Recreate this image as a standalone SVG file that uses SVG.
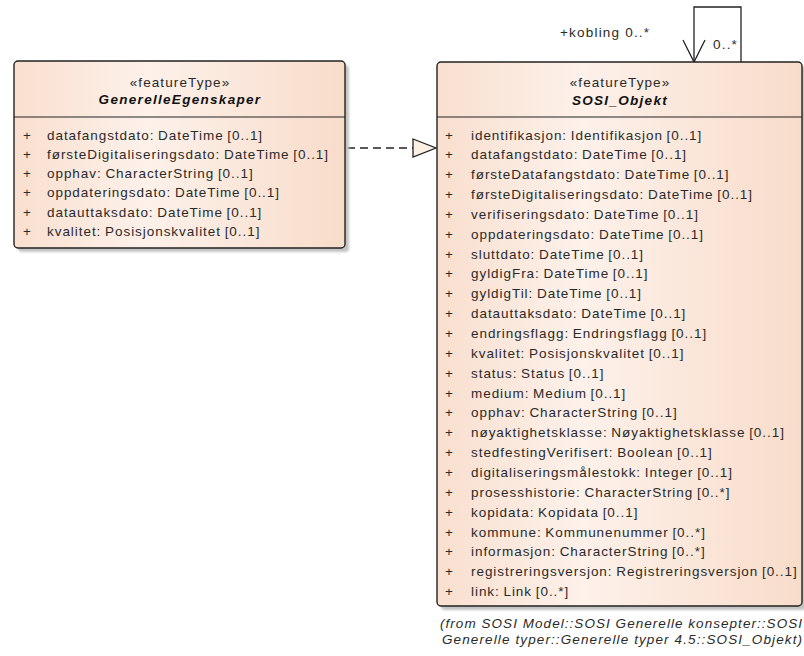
<svg xmlns="http://www.w3.org/2000/svg" width="804" height="656" viewBox="0 0 804 656">
<defs>
<linearGradient id="fillG" x1="0" y1="0" x2="1" y2="0">
<stop offset="0" stop-color="#F9DFCF"/>
<stop offset="0.4" stop-color="#FDF1EA"/>
<stop offset="1" stop-color="#F8DCCA"/>
</linearGradient>
<filter id="blur" x="-5%" y="-5%" width="110%" height="110%"><feGaussianBlur stdDeviation="1"/></filter>
</defs>
<style>
text{font-family:"Liberation Sans",Arial,sans-serif;fill:#2a2a2a;}
.box{fill:url(#fillG);stroke:#222;stroke-width:1.4;}
.shadow{fill:#c4c4c4;filter:url(#blur);}
.div{stroke:#222;stroke-width:1.2;}
.st{font-size:13.5px;letter-spacing:1.1px;text-anchor:middle;}
.nm{font-size:13.5px;letter-spacing:1.3px;font-weight:bold;font-style:italic;text-anchor:middle;fill:#111;}
.at{font-size:13.5px;letter-spacing:0.95px;word-spacing:-1px;}
.pl{font-size:13.5px;}
.lbl{font-size:13.5px;letter-spacing:1.2px;}
.note{font-size:13.5px;font-style:italic;text-anchor:middle;}
.con{fill:none;stroke:#222;stroke-width:1.3;}
</style>
<g id="connectors">
<path class="con" d="M347,148 H413" stroke-dasharray="8,5"/>
<path d="M413,139 L436,148 L413,157 Z" fill="#FCEFE4" stroke="#222" stroke-width="1.3"/>
<path class="con" d="M694,62 V7 H741 V62"/>
<path class="con" d="M683,40 L694,62 L705,40"/>
<text class="lbl" x="560" y="37">+kobling 0..*</text>
<text class="lbl" x="713" y="49">0..*</text>
</g>
<g id="GenerelleEgenskaper">
<rect class="shadow" x="18" y="65" width="331" height="187" rx="4"/>
<rect class="box" x="14" y="61" width="331" height="187" rx="4"/>
<line class="div" x1="14" y1="117" x2="345" y2="117"/>
<text class="st" x="180" y="87">«featureType»</text>
<text class="nm" x="180" y="104">GenerelleEgenskaper</text>
<g class="pl"><text x="23" y="139.5">+</text><text x="23" y="158.8">+</text><text x="23" y="178.1">+</text><text x="23" y="197.4">+</text><text x="23" y="216.7">+</text><text x="23" y="236">+</text></g>
<text class="at" x="47" y="139.5">datafangstdato: DateTime [0..1]</text>
<text class="at" x="47" y="158.8">førsteDigitaliseringsdato: DateTime [0..1]</text>
<text class="at" x="47" y="178.1">opphav: CharacterString [0..1]</text>
<text class="at" x="47" y="197.4">oppdateringsdato: DateTime [0..1]</text>
<text class="at" x="47" y="216.7">datauttaksdato: DateTime [0..1]</text>
<text class="at" x="47" y="236">kvalitet: Posisjonskvalitet [0..1]</text>
</g>
<g id="SOSI_Objekt">
<rect class="shadow" x="441" y="66" width="365" height="544" rx="4"/>
<rect class="box" x="437" y="62" width="365" height="544" rx="4"/>
<line class="div" x1="437" y1="117" x2="802" y2="117"/>
<text class="st" x="620" y="87">«featureType»</text>
<text class="nm" x="620" y="105">SOSI_Objekt</text>
<g class="pl">
<text x="445" y="139.5">+</text><text x="445" y="159.35">+</text><text x="445" y="179.2">+</text><text x="445" y="199.05">+</text><text x="445" y="218.9">+</text><text x="445" y="238.75">+</text><text x="445" y="258.6">+</text><text x="445" y="278.45">+</text><text x="445" y="298.3">+</text><text x="445" y="318.15">+</text><text x="445" y="338">+</text><text x="445" y="357.85">+</text><text x="445" y="377.7">+</text><text x="445" y="397.55">+</text><text x="445" y="417.4">+</text><text x="445" y="437.25">+</text><text x="445" y="457.1">+</text><text x="445" y="476.95">+</text><text x="445" y="496.8">+</text><text x="445" y="516.65">+</text><text x="445" y="536.5">+</text><text x="445" y="556.35">+</text><text x="445" y="576.2">+</text><text x="445" y="596.05">+</text>
</g>
<text class="at" x="471" y="139.5">identifikasjon: Identifikasjon [0..1]</text>
<text class="at" x="471" y="159.35">datafangstdato: DateTime [0..1]</text>
<text class="at" x="471" y="179.2">førsteDatafangstdato: DateTime [0..1]</text>
<text class="at" x="471" y="199.05">førsteDigitaliseringsdato: DateTime [0..1]</text>
<text class="at" x="471" y="218.9">verifiseringsdato: DateTime [0..1]</text>
<text class="at" x="471" y="238.75">oppdateringsdato: DateTime [0..1]</text>
<text class="at" x="471" y="258.6">sluttdato: DateTime [0..1]</text>
<text class="at" x="471" y="278.45">gyldigFra: DateTime [0..1]</text>
<text class="at" x="471" y="298.3">gyldigTil: DateTime [0..1]</text>
<text class="at" x="471" y="318.15">datauttaksdato: DateTime [0..1]</text>
<text class="at" x="471" y="338">endringsflagg: Endringsflagg [0..1]</text>
<text class="at" x="471" y="357.85">kvalitet: Posisjonskvalitet [0..1]</text>
<text class="at" x="471" y="377.7">status: Status [0..1]</text>
<text class="at" x="471" y="397.55">medium: Medium [0..1]</text>
<text class="at" x="471" y="417.4">opphav: CharacterString [0..1]</text>
<text class="at" x="471" y="437.25">nøyaktighetsklasse: Nøyaktighetsklasse [0..1]</text>
<text class="at" x="471" y="457.1">stedfestingVerifisert: Boolean [0..1]</text>
<text class="at" x="471" y="476.95">digitaliseringsmålestokk: Integer [0..1]</text>
<text class="at" x="471" y="496.8">prosesshistorie: CharacterString [0..*]</text>
<text class="at" x="471" y="516.65">kopidata: Kopidata [0..1]</text>
<text class="at" x="471" y="536.5">kommune: Kommunenummer [0..*]</text>
<text class="at" x="471" y="556.35">informasjon: CharacterString [0..*]</text>
<text class="at" x="471" y="576.2">registreringsversjon: Registreringsversjon [0..1]</text>
<text class="at" x="471" y="596.05">link: Link [0..*]</text>
<text class="note" x="621" y="627.5" textLength="362" lengthAdjust="spacing">(from SOSI Model::SOSI Generelle konsepter::SOSI</text>
<text class="note" x="622" y="644" textLength="360" lengthAdjust="spacing">Generelle typer::Generelle typer 4.5::SOSI_Objekt)</text>
</g>
</svg>
